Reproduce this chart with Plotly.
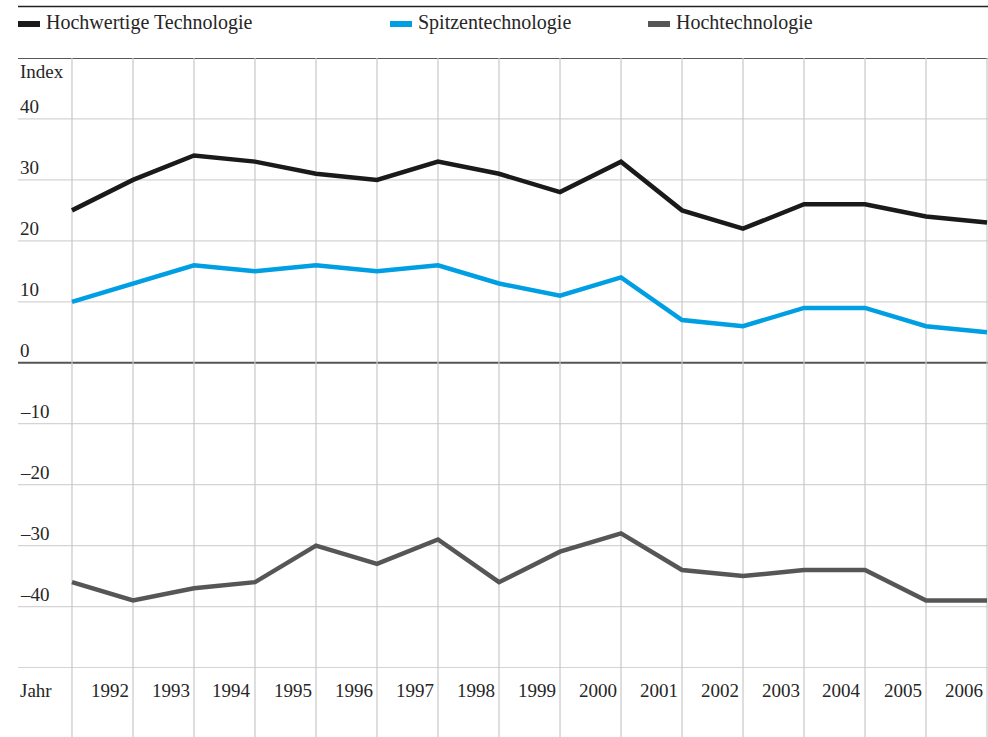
import plotly.graph_objects as go

years = list(range(1991, 2007))
year_labels = [str(y) for y in range(1992, 2007)]
hochwertige = [25, 30, 34, 33, 31, 30, 33, 31, 28, 33, 25, 22, 26, 26, 24, 23]
spitzen = [10, 13, 16, 15, 16, 15, 16, 13, 11, 14, 7, 6, 9, 9, 6, 5]
hoch = [-36, -39, -37, -36, -30, -33, -29, -36, -31, -28, -34, -35, -34, -34, -39, -39]
y_ticks = [50, 40, 30, 20, 10, 0, -10, -20, -30, -40, -50]
y_tick_labels = ["Index", "40", "30", "20", "10", "0", "–10", "–20", "–30", "–40", ""]
series_names = ["Hochwertige Technologie", "Spitzentechnologie", "Hochtechnologie"]
series_colors = ["#1a1a1a", "#009fe3", "#565656"]

W, H = 988, 737
ML, MR, MT, MB = 18, 0, 58, 0
FONT = "Liberation Serif, Times New Roman, serif"
TXT = "#262626"

def py(px):  # pixel y -> paper y
    return 1 - (px - MT) / (H - MT - MB)

def pxx(px):
    return (px - ML) / (W - ML - MR)

fig = go.Figure()
for name, vals, col in zip(series_names, [hochwertige, spitzen, hoch], series_colors):
    fig.add_trace(go.Scatter(x=years, y=vals, mode="lines", name=name,
                             line=dict(color=col, width=4.5), showlegend=False))

shapes = []
annotations = []
# horizontal lines
for v in y_ticks:
    if v == 50:
        col, w = "#222222", 1.5
    elif v == 0:
        col, w = "#555555", 2
    else:
        col, w = "#d4d4d4", 1.2
    shapes.append(dict(type="line", xref="paper", yref="y", x0=0, x1=1, y0=v, y1=v,
                       line=dict(color=col, width=w), layer="below"))
# vertical gridlines
for yr in years:
    shapes.append(dict(type="line", xref="x", yref="paper", x0=yr, x1=yr, y0=0, y1=1,
                       line=dict(color="#c8c8c8", width=1.2), layer="below"))
# top rule
shapes.append(dict(type="line", xref="paper", yref="paper", x0=0, x1=1,
                   y0=py(6.5), y1=py(6.5), line=dict(color="#222222", width=1.5)))

# y labels
for v, lab in zip(y_ticks, y_tick_labels):
    if lab == "":
        continue
    if v == 50:
        annotations.append(dict(x=0, xref="paper", y=v, yref="y", text=lab, showarrow=False,
                                xanchor="left", yanchor="top", yshift=-1,
                                font=dict(family=FONT, size=19, color=TXT)))
    else:
        annotations.append(dict(x=0, xref="paper", y=v, yref="y", text=lab, showarrow=False,
                                xanchor="left", yanchor="bottom", yshift=0,
                                font=dict(family=FONT, size=19, color=TXT)))
# x labels
annotations.append(dict(x=0, xref="paper", y=py(690), yref="paper", text="Jahr", showarrow=False,
                        xanchor="left", yanchor="middle", font=dict(family=FONT, size=19, color=TXT)))
for yr, lab in zip(years[1:], year_labels):
    annotations.append(dict(x=yr, xref="x", y=py(690), yref="paper", text=lab, showarrow=False,
                            xanchor="right", yanchor="middle", xshift=-2,
                            font=dict(family=FONT, size=19, color=TXT)))
# legend
leg_x = [18, 390, 648]
for name, col, lx in zip(series_names, series_colors, leg_x):
    shapes.append(dict(type="rect", xref="paper", yref="paper",
                       x0=pxx(lx), x1=pxx(lx + 22), y0=py(27), y1=py(21),
                       fillcolor=col, line=dict(width=0)))
    annotations.append(dict(x=pxx(lx + 26), xref="paper", y=py(22.5), yref="paper", text=name,
                            showarrow=False, xanchor="left", yanchor="middle",
                            font=dict(family=FONT, size=20, color=TXT)))

fig.update_layout(
    width=W, height=H,
    margin=dict(l=ML, r=MR, t=MT, b=MB),
    plot_bgcolor="white", paper_bgcolor="white",
    xaxis=dict(range=[1990.115, 2006.016], showgrid=False, zeroline=False,
               showticklabels=False, showline=False),
    yaxis=dict(range=[-61.4, 50.0], showgrid=False, zeroline=False,
               showticklabels=False, showline=False),
    shapes=shapes, annotations=annotations,
)
fig.write_html("out.html", config={"displayModeBar": False},
               post_script="document.body.style.margin='0';document.body.style.overflow='hidden';")
